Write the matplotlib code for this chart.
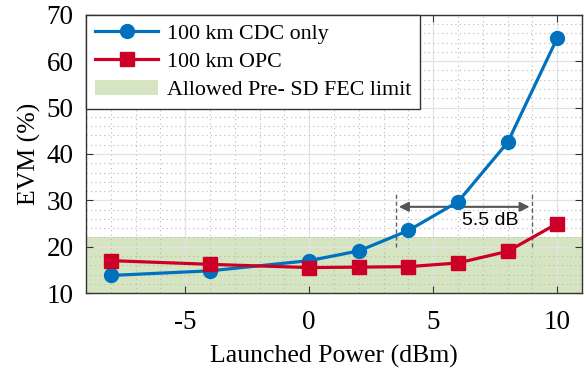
import numpy as np
import matplotlib.pyplot as plt
from matplotlib.patches import Patch
from matplotlib.ticker import MultipleLocator

# Launched power (dBm) and EVM (%) values
power = [-8, -4, 0, 2, 4, 6, 8, 10]
evm_cdc = [13.8, 14.8, 17.0, 19.1, 23.5, 29.7, 42.5, 65.0]
evm_opc = [17.0, 16.2, 15.5, 15.6, 15.7, 16.5, 19.0, 25.0]
fec_limit = 22.0
gain_start, gain_end = 3.5, 9.0
gain_label = '5.5 dB'

plt.rcParams['font.family'] = ['Liberation Serif', 'DejaVu Serif']
plt.rcParams['axes.unicode_minus'] = False

fig = plt.figure(figsize=(5.85, 3.71), dpi=100)
ax = fig.add_axes([0.147, 0.210, 0.848, 0.750])

blue = '#0072bd'
red = '#cc0027'
green = '#d6e5c1'

# FEC limit band
ax.axhspan(10, fec_limit, color=green, zorder=0.5, lw=0)

ax.plot(power, evm_cdc, '-o', color=blue, lw=2.3, ms=10, zorder=3)
ax.plot(power, evm_opc, '-s', color=red, lw=2.3, ms=10, zorder=3)

# 5.5 dB annotation
for xv in (gain_start, gain_end):
    ax.plot([xv, xv], [20, 31.5], ls=(0, (3, 2)), color='#606060', lw=1.0, zorder=2)
ax.annotate('', xy=(gain_start, 28.6), xytext=(gain_end, 28.6),
            arrowprops=dict(arrowstyle='<|-|>', color='#555555', lw=1.5,
                            mutation_scale=14), zorder=2)
ax.text(7.3, 25.6, gain_label, fontsize=14, family='Liberation Sans',
        ha='center', va='center', zorder=4)

ax.set_xlim(-9, 11)
ax.set_ylim(10, 70)
ax.set_xticks([-5, 0, 5, 10])
ax.set_yticks(range(10, 71, 10))
ax.xaxis.set_minor_locator(MultipleLocator(1))
ax.yaxis.set_minor_locator(MultipleLocator(2))

ax.grid(which='major', color='#e2e2e2', lw=0.9, zorder=1)
ax.grid(which='minor', color='#b8b8b8', lw=0.8, ls=(0, (1, 3)), zorder=1)
ax.set_axisbelow(True)

ax.tick_params(which='major', direction='in', length=5, top=True, right=True,
               labelsize=19.5, color='#333333')
ax.tick_params(axis='x', pad=12)
ax.tick_params(axis='y', pad=9)
ax.tick_params(which='minor', length=0)
for s in ax.spines.values():
    s.set_color('#333333')
    s.set_linewidth(1.0)

ax.set_xlabel('Launched Power (dBm)', fontsize=18.5, labelpad=7)
ax.set_ylabel('EVM (%)', fontsize=18.5, labelpad=4)

handles = [
    plt.Line2D([], [], color=blue, marker='o', lw=2.3, ms=10),
    plt.Line2D([], [], color=red, marker='s', lw=2.3, ms=10),
    Patch(facecolor=green, edgecolor='none'),
]
labels = ['100 km CDC only', '100 km OPC', 'Allowed Pre- SD FEC limit']
leg = ax.legend(handles, labels, loc='upper left', fontsize=15.8, frameon=True,
                fancybox=False, edgecolor='#333333', framealpha=1,
                borderaxespad=0, handlelength=2.9, handletextpad=0.4,
                borderpad=0.4, labelspacing=0.35)
leg.get_frame().set_linewidth(1.0)
leg.set_zorder(5)

fig.savefig('out.png', dpi=100)
